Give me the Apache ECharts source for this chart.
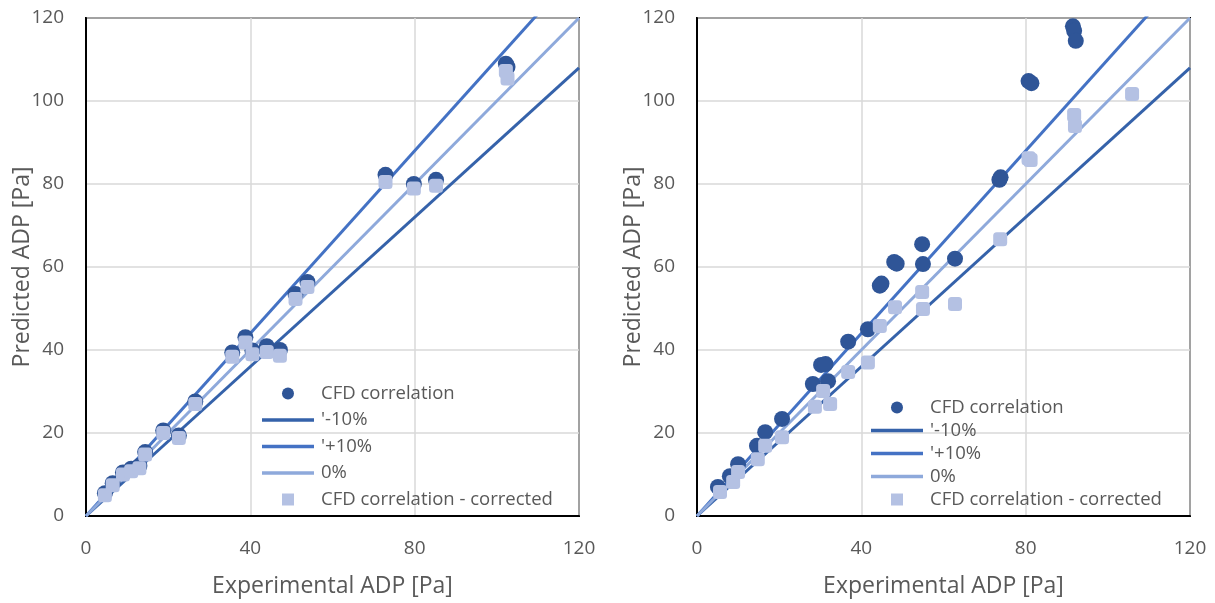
<!DOCTYPE html>
<html>
<head>
<meta charset="utf-8">
<script src="https://cdn.jsdelivr.net/npm/echarts@6/dist/echarts.min.js"></script>
<style>html,body{margin:0;padding:0;background:#fff}#c{width:1215px;height:603px}</style>
</head>
<body>
<div id="c"></div>
<script>
// ---- data ----
const xTicks = [0, 40, 80, 120];
const yTicks = [0, 20, 40, 60, 80, 100, 120];
const refLineX = [0, 120];
const lineNames = ["'-10%", "'+10%", "0%"];
const lineFactors = [0.9, 1.1, 1.0];

// left chart
const leftX       = [4.6, 6.5, 9.0, 11.0, 13.0, 14.4, 18.8, 22.6, 26.6, 35.6, 38.8, 40.5, 44.0, 47.2, 51.0, 53.9, 72.9, 79.8, 85.2, 102.2, 102.6];
const leftCFD     = [5.5, 7.9, 10.5, 11.4, 12.1, 15.4, 20.6, 19.4, 27.6, 39.4, 43.1, 39.9, 40.9, 40.0, 53.5, 56.4, 82.2, 80.0, 81.0, 109.0, 108.2];
const leftCorr    = [5.0, 7.4, 10.0, 10.8, 11.5, 14.8, 20.0, 18.8, 27.0, 38.4, 41.8, 39.0, 39.5, 38.6, 52.3, 55.2, 80.5, 78.9, 79.6, 107.2, 105.4];

// right chart
const rightCFDX   = [5.1, 8.0, 10.0, 14.6, 16.6, 20.7, 28.2, 30.2, 31.3, 31.9, 36.8, 41.6, 44.5, 44.9, 48.0, 48.6, 54.8, 55.0, 62.8, 73.6, 73.9, 80.7, 81.4, 91.5, 91.8, 92.2];
const rightCFD    = [7.0, 9.6, 12.5, 16.9, 20.2, 23.4, 31.8, 36.4, 36.6, 32.5, 42.0, 45.0, 55.5, 56.0, 61.2, 60.8, 65.5, 60.7, 62.0, 81.0, 81.6, 104.8, 104.3, 118.0, 116.9, 114.5];
const rightCorrX  = [5.6, 8.8, 10.0, 14.8, 16.6, 20.7, 28.7, 30.7, 32.4, 36.8, 41.6, 44.5, 48.2, 54.8, 55.0, 62.8, 73.8, 80.7, 81.2, 91.8, 92.0, 105.9];
const rightCorr   = [5.8, 8.2, 10.6, 13.7, 16.9, 19.0, 26.3, 30.1, 27.0, 34.7, 37.0, 45.8, 50.3, 54.0, 49.9, 51.1, 66.7, 86.2, 85.8, 96.6, 94.0, 101.7];

const CIRCLE = '#2F5597', SQUARE = '#B4C1E3';
const LINE_COLORS = ['#3562AA', '#4472C4', '#8EA9DB'];
const TXT = '#595959';
const FONT = 'Open Sans';

const pairs = (xs, ys) => xs.map((x, i) => [x, ys[i]]);

function axesFor(gi) {
  return {
    x: {
      type: 'value', gridIndex: gi, min: 0, max: 120, interval: 40,
      name: 'Experimental ADP [Pa]', nameLocation: 'middle', nameGap: 59, nameMoveOverlap: false,
      nameTextStyle: { color: TXT, fontSize: 23, fontFamily: FONT },
      axisLine: { show: true, lineStyle: { color: '#000', width: 2 } },
      axisTick: { show: false },
      axisLabel: { color: TXT, fontSize: 19, fontFamily: FONT, margin: 23 },
      splitLine: { show: true, lineStyle: { color: '#D9D9D9', width: 1.5 } }
    },
    y: {
      type: 'value', gridIndex: gi, min: 0, max: 120, interval: 20,
      name: 'Predicted ADP [Pa]', nameLocation: 'middle', nameGap: 52, nameMoveOverlap: false,
      nameTextStyle: { color: TXT, fontSize: 23, fontFamily: FONT },
      axisLine: { show: true, lineStyle: { color: '#000', width: 2 } },
      axisTick: { show: false },
      axisLabel: { color: TXT, fontSize: 19, fontFamily: FONT, margin: 22 },
      splitLine: { show: true, lineStyle: { color: '#D9D9D9', width: 1.5 } }
    }
  };
}
const a0 = axesFor(0), a1 = axesFor(1);

function seriesFor(gi, cfd, corr) {
  const s = [];
  s.push({ name: 'CFD correlation', type: 'scatter', xAxisIndex: gi, yAxisIndex: gi, z: 3,
    symbol: 'circle', symbolSize: 16, itemStyle: { color: CIRCLE, opacity: 1 }, data: cfd });
  lineNames.forEach((n, i) => {
    s.push({ name: n, type: 'line', xAxisIndex: gi, yAxisIndex: gi, z: 2, symbol: 'none',
      clip: true, lineStyle: { color: LINE_COLORS[i], width: 3 }, itemStyle: { color: LINE_COLORS[i] },
      data: refLineX.map(x => [x, x * lineFactors[i]]) });
  });
  s.push({ name: 'CFD correlation - corrected', type: 'scatter', xAxisIndex: gi, yAxisIndex: gi, z: 4,
    symbol: 'roundRect', symbolSize: 14, itemStyle: { color: SQUARE, opacity: 1 }, data: corr });
  return s;
}

const LINE_ICON = 'path://M0,0 M52,14 M0,5.3 L52,5.3 L52,8.7 L0,8.7 Z';
const CIRC_ICON = 'path://M0,0 M52,14 M26,1 A6,6 0 1,1 25.99,1 Z';
const SQ_ICON = 'path://M0,0 M52,14 M20,1 L32,1 L32,13 L20,13 Z';
const legendData = [
  { name: 'CFD correlation', icon: CIRC_ICON },
  { name: "'-10%", icon: LINE_ICON }, { name: "'+10%", icon: LINE_ICON }, { name: '0%', icon: LINE_ICON },
  { name: 'CFD correlation - corrected', icon: SQ_ICON }
];
function legend(left, top, gap) {
  return { orient: 'vertical', left, top, itemGap: gap, itemWidth: 52, itemHeight: 14,
    textStyle: { color: TXT, fontSize: 18.5, fontFamily: FONT, padding: [0, 0, 0, 2] },
    selectedMode: false, data: legendData };
}

const chart = echarts.init(document.getElementById('c'), null, { renderer: 'canvas' });
chart.setOption({
  animation: false,
  backgroundColor: '#fff',
  grid: [
    { left: 86, top: 18, width: 493, height: 500, show: true, borderColor: '#000', borderWidth: 2, backgroundColor: 'transparent' },
    { left: 697, top: 18, width: 493, height: 500, show: true, borderColor: '#000', borderWidth: 2, backgroundColor: 'transparent' }
  ],
  xAxis: [a0.x, a1.x],
  yAxis: [a0.y, a1.y],
  legend: [legend(257, 379, 7.5), legend(866, 393, 4)],
  series: [...seriesFor(0, pairs(leftX, leftCFD), pairs(leftX, leftCorr)),
           ...seriesFor(1, pairs(rightCFDX, rightCFD), pairs(rightCorrX, rightCorr))]
});
</script>
</body>
</html>
